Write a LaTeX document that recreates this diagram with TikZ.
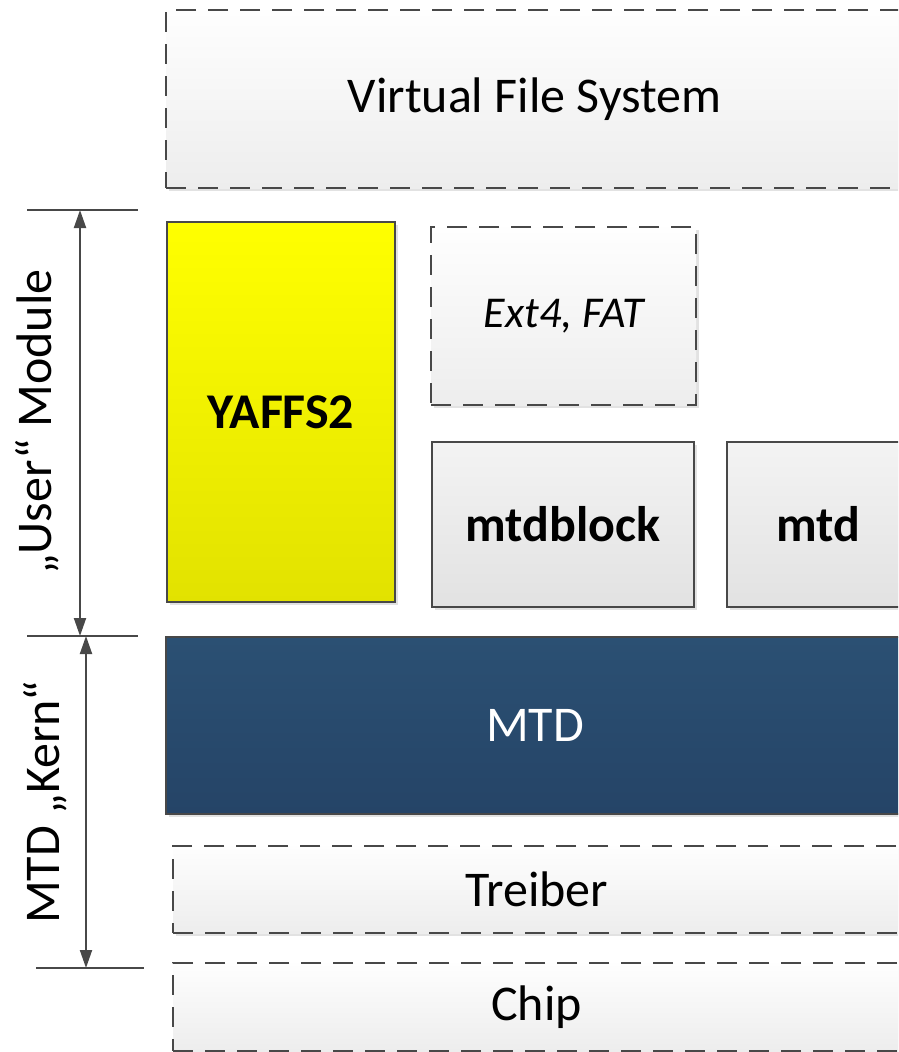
\documentclass[tikz,border=0pt]{standalone}
\usepackage{fontspec}
\setmainfont{Carlito}
\usetikzlibrary{arrows.meta,shadows}

\definecolor{edgegrey}{HTML}{484848}
\definecolor{dimgrey}{HTML}{484848}
\definecolor{yellowtop}{HTML}{FFFF00}
\definecolor{yellowbot}{HTML}{E2E200}
\definecolor{greytop}{HTML}{F3F3F3}
\definecolor{greybot}{HTML}{E2E2E2}
\definecolor{dashtop}{HTML}{FEFEFE}
\definecolor{dashbot}{HTML}{EDEDED}
\definecolor{bluetop}{HTML}{2B5073}
\definecolor{bluebot}{HTML}{254467}

\tikzset{
  layer/.style={draw=edgegrey, line width=2.2pt, anchor=north west, inner sep=0pt,
    font=\fontsize{50}{60}\selectfont,
    drop shadow={shadow xshift=3pt, shadow yshift=-3pt, opacity=0.25, fill=black!45}},
  dashbox/.style={layer, dash pattern=on 20pt off 12pt, top color=dashtop, bottom color=dashbot},
  greybox/.style={layer, top color=greytop, bottom color=greybot, font=\fontsize{50}{60}\selectfont\bfseries},
  yellowbox/.style={layer, top color=yellowtop, bottom color=yellowbot, font=\fontsize{50}{60}\selectfont\bfseries},
  bluebox/.style={layer, top color=bluetop, bottom color=bluebot, text=white},
  dimline/.style={draw=dimgrey, line width=2pt},
  dimarrow/.style={draw=dimgrey, line width=2pt, {Triangle[width=12pt,length=18pt]}-{Triangle[width=12pt,length=18pt]}},
  sidelabel/.style={rotate=90, inner sep=0pt, font=\fontsize{50}{60}\selectfont}
}

\begin{document}
\begin{tikzpicture}[x=1pt,y=-1pt]
\useasboundingbox (0,0) rectangle (898,1052);
\clip (0,0) rectangle (898,1052);

% layer stack (the wide layers run on past the right edge)
\node[dashbox, minimum width=742pt, minimum height=178pt] (vfs) at (165,9) {\hspace*{-5pt}Virtual File System};
\node[yellowbox, minimum width=228pt, minimum height=380pt] (yaffs) at (166,221) {YAFFS2};
\node[dashbox, minimum width=265pt, minimum height=178pt, font=\fontsize{44}{52}\selectfont\itshape] (ext) at (430,226) {Ext4, FAT};
\node[greybox, minimum width=262pt, minimum height=165pt] (mtdblock) at (431,441) {mtdblock};
\node[greybox, minimum width=182pt, minimum height=165pt] (mtdchar) at (726,441) {mtd};
\node[bluebox, minimum width=743pt, minimum height=177pt] (core) at (165,636) {\hspace*{-5pt}MTD};
\node[dashbox, minimum width=734pt, minimum height=87pt] (drv) at (172,845) {\hspace*{-7pt}Treiber};
\node[dashbox, minimum width=734pt, minimum height=88pt] (chip) at (172,962) {\hspace*{-7pt}Chip};

% dimension marks on the left
\coordinate (ta) at (27,210);  \coordinate (tb) at (138,210);
\coordinate (ma) at (27,636);  \coordinate (mb) at (138,636);
\coordinate (ba) at (36,968);  \coordinate (bb) at (144,968);
\coordinate (u1) at (80,210);  \coordinate (u2) at (80,636);
\coordinate (k1) at (86,636);  \coordinate (k2) at (86,968);

\draw[dimline] (ta) -- (tb);
\draw[dimline] (ma) -- (mb);
\draw[dimline] (ba) -- (bb);
\draw[dimarrow] (u1) -- (u2);
\draw[dimarrow] (k1) -- (k2);

\node[sidelabel] (userlbl) at (37,422) {„User“ Module};
\node[sidelabel] (kernlbl) at (45,802) {MTD „Kern“};
\end{tikzpicture}
\end{document}
